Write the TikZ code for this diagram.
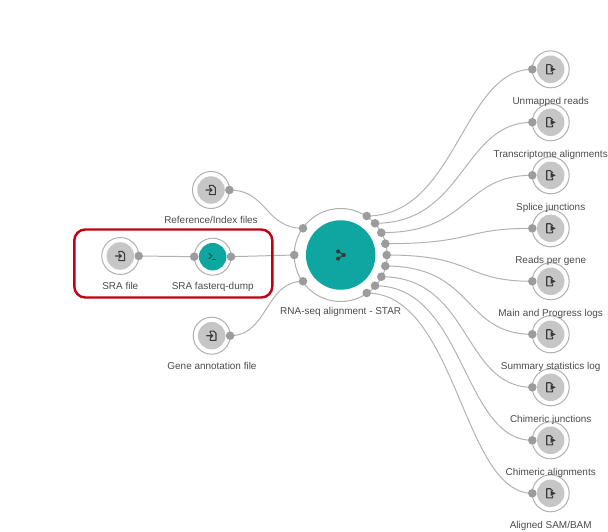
\documentclass[tikz,border=0pt]{standalone}
\usepackage{fontspec}
\setmainfont{Liberation Sans}
\usetikzlibrary{backgrounds}
\definecolor{ringc}{HTML}{B0B0B0}
\definecolor{portc}{HTML}{9C9C9C}
\definecolor{discc}{HTML}{C6C6C6}
\definecolor{tealc}{HTML}{0FA6A2}
\definecolor{edgec}{HTML}{B2B2B2}
\definecolor{txtc}{HTML}{4A4A4A}
\definecolor{iconc}{HTML}{3A3A3A}
\definecolor{redc}{HTML}{C00010}
\tikzset{
  ring/.style={circle,draw=ringc,line width=1pt,fill=white,minimum size=37pt,inner sep=0pt},
  disc/.style={circle,fill=discc,minimum size=27.5pt,inner sep=0pt},
  tdisc/.style={circle,fill=tealc,minimum size=27.5pt,inner sep=0pt},
  port/.style={circle,fill=portc,minimum size=8.6pt,inner sep=0pt},
  lbl/.style={text=txtc,font=\fontsize{9.95}{11}\selectfont,inner sep=0pt},
  edge/.style={draw=edgec,line width=1pt},
  ico/.style={draw=iconc,line width=1.1pt,line cap=round,line join=round},
}
% input-file icon at a named node
\newcommand{\infile}[1]{%
  \draw[ico,shift={(#1.center)}] (-1.5,-3) -- (-1.5,-4.6) -- (2,-4.6) -- (4.3,-2.3) -- (4.3,4.6) -- (-1.5,4.6) -- (-1.5,3);
  \draw[ico,shift={(#1.center)}] (-5,0) -- (1,0) (-1.2,-2) -- (1,0) -- (-1.2,2);
}
% output-file icon at a named node
\newcommand{\outfile}[1]{%
  \draw[ico,shift={(#1.center)}] (1.8,-2.4) -- (1.8,-2.6) -- (-0.4,-4.6) -- (-4,-4.6) -- (-4,4.6) -- (1.8,4.6) -- (1.8,2.6);
  \fill[iconc,shift={(#1.center)}] (0,-2.6) -- (5,0) -- (0,2.6) -- cycle;
}
\begin{document}
\begin{tikzpicture}[x=1pt,y=-1pt]
\useasboundingbox (0,0) rectangle (608,532);
% red frame
\node[draw=redc,line width=2.4pt,rounded corners=11pt,minimum width=198pt,minimum height=68pt,inner sep=0pt] (frame) at (173.3,263.5) {};
% central tool
\node[circle,draw=ringc,line width=1pt,fill=white,minimum size=93pt,inner sep=0pt] (starring) at (340.7,255) {};
\node[circle,fill=tealc,minimum size=69.5pt,inner sep=0pt] (star) at (340.7,255) {};
\node[lbl] (starlbl) at (340.7,312.3) {RNA-seq alignment - STAR};
\foreach \n/\x/\y in {ia/303/228.3,ib/294.3/255,ic/303/281.3,
  oa/366.7/216,ob/375/223.3,oc/381.3/232.7,od/385.3/243.7,oe/386.7/255,
  of/385.3/266,og/381.3/276.7,oh/375/285.7,oi/366.7/293}
  \node[port] (\n) at (\x,\y) {};
\fill[iconc] (star.center) ++(-2.6,-3.6) circle (2.1) ++(0,7.2) circle (2.1) ++(5.6,-3.6) circle (2.1);
\draw[iconc,line width=1pt] (338.1,251.4) -- (343.7,255) -- (338.1,258.6);
% inputs
\foreach \n/\x/\y in {refn/211/190,sra/120.3/256,gene/211.7/335.7}{
  \node[ring] (\n-r) at (\x,\y) {};
  \node[disc] (\n) at (\x,\y) {};
  \node[port] (\n-p) at (\x+18.4,\y) {};
  \infile{\n}
}
\node[lbl] (refnl) at (211,220) {Reference/Index files};
\node[lbl] (sral) at (120.3,286) {SRA file};
\node[lbl] (genel) at (212,366) {Gene annotation file};
% fasterq-dump
\node[ring] (fq-r) at (212.7,256.7) {};
\node[tdisc] (fq) at (212.7,256.7) {};
\node[port] (fq-i) at (194.2,256.7) {};
\node[port] (fq-p) at (231,256.7) {};
\node[lbl] (fql) at (212.7,286.5) {SRA fasterq-dump};
\draw[ico,line width=0.8pt] (209,253.5) -- (212,256) -- (209,258.5) (212.5,259.5) -- (216,259.5);
% outputs
\foreach \n/\y in {ra/69.3,rb/122.3,rc/175.3,rd/228.3,re/281.3,rf/334.3,rg/387.3,rh/440.3,ri/493.3}{
  \node[ring] (\n-r) at (550.7,\y) {};
  \node[disc] (\n) at (550.7,\y) {};
  \node[port] (\n-p) at (532.3,\y) {};
  \outfile{\n}
}
\foreach \n/\y/\t in {ra/69.3/Unmapped reads,rb/122.3/Transcriptome alignments,rc/175.3/Splice junctions,
  rd/228.3/Reads per gene,re/281.3/Main and Progress logs,rf/334.3/Summary statistics log,
  rg/387.3/Chimeric junctions,rh/440.3/Chimeric alignments,ri/493.3/Aligned SAM{/}BAM}
  \node[lbl] (\n-l) at (550.7,\y+32.2) {\t};
% connectors
\begin{pgfonlayer}{background}
\draw[edge] (refn-p.center) .. controls +(38,0) and +(-38,0) .. (ia.center);
\draw[edge] (gene-p.center) .. controls +(38,0) and +(-38,0) .. (ic.center);
\draw[edge] (sra-p.center) -- (fq-i.center);
\draw[edge] (fq-p.center) -- (ib.center);
\foreach \a/\b in {oa/ra,ob/rb,oc/rc,od/rd,oe/re,of/rf,og/rg,oh/rh,oi/ri}
  \draw[edge] (\a.center) .. controls +(90,0) and +(-70,0) .. (\b-p.center);
\end{pgfonlayer}
\end{tikzpicture}
\end{document}
